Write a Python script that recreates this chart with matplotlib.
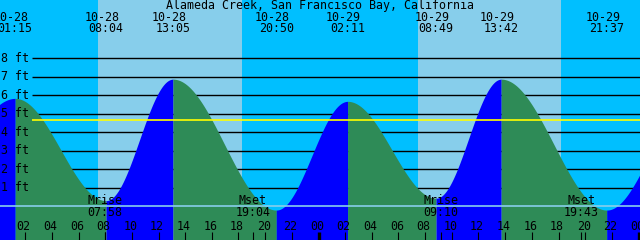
import numpy as np
import matplotlib.pyplot as plt

title = 'Alameda Creek, San Francisco Bay, California'

# tide turning points shown in the header
tide_dates = ['10-28', '10-28', '10-28', '10-28', '10-29', '10-29', '10-29', '10-29']
tide_times = ['01:15', '08:04', '13:05', '20:50', '02:11', '08:49', '13:42', '21:37']
tide_heights = [5.82, 0.29, 6.86, -0.22, 5.66, 0.42, 6.86, -0.22]
# turning points just outside the window (estimated from the curve at the edges)
edge_dates = ['10-27', '10-30']
edge_times = ['17:30', '04:00']
edge_heights = [-0.1, 5.6]

sunrise = [('10-28', '07:28'), ('10-29', '07:28')]
sunset = [('10-28', '18:14'), ('10-29', '18:11')]

moon_labels = ['Mrise', 'Mset', 'Mrise', 'Mset']
moon_dates = ['10-28', '10-28', '10-29', '10-29']
moon_times = ['07:58', '19:04', '09:10', '19:43']

ft_levels = [1, 2, 3, 4, 5, 6, 7, 8]
mean_level = 4.63
hour_ticks = list(range(0, 49, 2))

NIGHT = '#00BFFF'
DAY = '#87CEEB'
RISE = '#0000FF'
FALL = '#2E8B57'
FONT = dict(family='DejaVu Sans Mono', fontsize=8.4, color='black')


def hours(date, hm):
    """hours counted from 10-28 00:00"""
    day = int(date[-2:]) - 28
    h, m = hm.split(':')
    return day * 24 + int(h) + int(m) / 60


# pixel layout helpers (640x240 canvas)
PX_HR = 640 / 48
PX_FT = 18.49


def xh(px):
    return (px + 1.5) / PX_HR


def yf(py):
    return (206 - py) / PX_FT


fig = plt.figure(figsize=(6.4, 2.4), dpi=100)
fig.patch.set_facecolor(NIGHT)
ax = fig.add_axes([0, 0, 1, 1])
ax.set_xlim(xh(0), xh(640))
ax.set_ylim(yf(240), yf(0))
ax.axis('off')

# daylight
for (d0, t0), (d1, t1) in zip(sunrise, sunset):
    ax.axvspan(hours(d0, t0), hours(d1, t1), color=DAY, lw=0, zorder=0)

# foot lines (behind the water)
for lv in ft_levels:
    ax.hlines(lv, xh(32), xh(640), color='black', lw=1.0, zorder=1)
    ax.text(xh(1), lv, f'{lv} ft', ha='left', va='center', zorder=5, **FONT)

# tide curve, filled rising/falling
tt_all = [hours(edge_dates[0], edge_times[0])] + \
         [hours(d, t) for d, t in zip(tide_dates, tide_times)] + \
         [hours(edge_dates[1], edge_times[1])]
hh_all = [edge_heights[0]] + tide_heights + [edge_heights[1]]
for i in range(len(tt_all) - 1):
    t0, t1 = tt_all[i], tt_all[i + 1]
    h0, h1 = hh_all[i], hh_all[i + 1]
    tt = np.linspace(t0, t1, 300)
    hh = (h0 + h1) / 2 + (h0 - h1) / 2 * np.cos(np.pi * (tt - t0) / (t1 - t0))
    ax.fill_between(tt, hh, yf(240) - 1, color=RISE if h1 > h0 else FALL,
                    lw=0, zorder=2)

ax.axhline(0, color=DAY, lw=1.2, zorder=3)
ax.hlines(mean_level, xh(32), xh(640), color='yellow', lw=1.2, zorder=3)

# header
ax.text(xh(320), yf(6), title, ha='center', va='center', zorder=5, **FONT)
for d, t in zip(tide_dates, tide_times):
    x = hours(d, t)
    ax.annotate(d, (x, yf(17)), xytext=(-4 * 0.72, 0), textcoords='offset points',
                ha='center', va='center', zorder=5, **FONT)
    ax.text(x, yf(29), t, ha='center', va='center', zorder=5, **FONT)

# moon events
for lab, d, t in zip(moon_labels, moon_dates, moon_times):
    x = hours(d, t)
    ax.text(x, yf(201), lab, ha='center', va='center', zorder=5, **FONT)
    ax.text(x, yf(213), t, ha='center', va='center', zorder=5, **FONT)
    ax.vlines(x, yf(231.7), yf(240), color='black', lw=0.8, zorder=4)

# hour ticks
for h in hour_ticks:
    ax.annotate(f'{h % 24:02d}', (h, yf(226)), xytext=(-1.5 * 0.72, 0),
                textcoords='offset points', ha='center', va='center', zorder=5, **FONT)
    ax.vlines(h, yf(231.7), yf(240), color='black',
              lw=2.4 if h % 24 == 0 else 0.8, zorder=4)

fig.savefig('out.png', dpi=100, facecolor=NIGHT)
